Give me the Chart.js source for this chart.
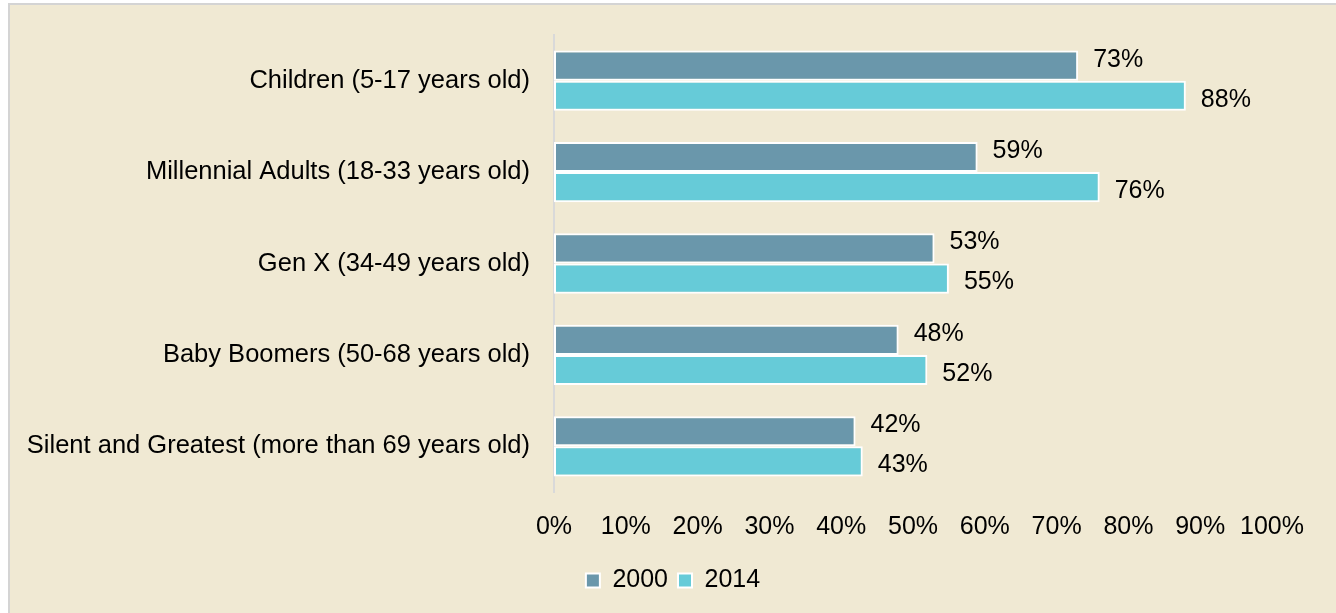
<!DOCTYPE html>
<html lang="en">
<head>
    <meta charset="UTF-8">
    <title>Share by generation, 2000 vs 2014</title>
    <script src="https://cdn.jsdelivr.net/npm/chart.js"></script>
    <style>
        body {
            margin: 0;
            background-color: #ffffff;
            overflow: hidden;
        }

        .panel {
            position: absolute;
            left: 8px;
            top: 3px;
            width: 1328px;
            height: 610px;
            background-color: #f0e9d3;
            border-left: 2px solid #d4d4d4;
            border-top: 2px solid #d4d4d4;
        }

        canvas {
            display: block;
        }
    </style>
</head>
<body>
    <div class="panel">
        <canvas id="genChart" width="1326" height="608"></canvas>
    </div>

    <script>
        // data
        const categories = [
            'Children (5-17 years old)',
            'Millennial Adults (18-33 years old)',
            'Gen X (34-49 years old)',
            'Baby Boomers (50-68 years old)',
            'Silent and Greatest (more than 69 years old)'
        ];
        const seriesNames = ['2000', '2014'];
        const values2000 = [73, 59, 53, 48, 42];
        const values2014 = [88, 76, 55, 52, 43];
        const axisMin = 0;
        const axisMax = 100;
        const axisStep = 10;

        const fontFamily = 'Arial, "Liberation Sans", sans-serif';

        // value labels to the right of each bar
        const barLabels = {
            id: 'barLabels',
            afterDatasetsDraw(chart) {
                const ctx = chart.ctx;
                ctx.save();
                ctx.font = '25px ' + fontFamily;
                ctx.fillStyle = '#000000';
                ctx.textAlign = 'left';
                ctx.textBaseline = 'middle';
                chart.data.datasets.forEach((ds, i) => {
                    const meta = chart.getDatasetMeta(i);
                    const shift = i === 0 ? -6 : 4;
                    meta.data.forEach((bar, j) => {
                        ctx.fillText(ds.data[j] + '%', bar.x + 15, bar.y + shift);
                    });
                });
                ctx.restore();
            }
        };

        const ctx = document.getElementById('genChart').getContext('2d');
        new Chart(ctx, {
            type: 'bar',
            data: {
                labels: categories,
                datasets: [{
                    label: seriesNames[0],
                    data: values2000,
                    backgroundColor: '#6a97ab',
                    borderColor: '#ffffff',
                    borderWidth: 2,
                    borderSkipped: false
                }, {
                    label: seriesNames[1],
                    data: values2014,
                    backgroundColor: '#66cbd8',
                    borderColor: '#ffffff',
                    borderWidth: 2,
                    borderSkipped: false
                }]
            },
            options: {
                indexAxis: 'y',
                responsive: false,
                animation: false,
                categoryPercentage: 0.66,
                barPercentage: 1.0,
                layout: {
                    padding: { left: 0, right: 0, top: 30, bottom: 10 }
                },
                plugins: {
                    tooltip: { enabled: false },
                    legend: {
                        position: 'bottom',
                        labels: {
                            boxWidth: 14,
                            boxHeight: 14,
                            padding: 10,
                            color: '#000000',
                            font: { family: fontFamily, size: 25 }
                        }
                    }
                },
                scales: {
                    x: {
                        min: axisMin,
                        max: axisMax,
                        grid: { display: false, drawTicks: false },
                        border: { display: false },
                        ticks: {
                            stepSize: axisStep,
                            padding: 20,
                            color: '#000000',
                            font: { family: fontFamily, size: 25 },
                            maxRotation: 0,
                            callback: (v) => v + '%'
                        },
                        afterFit(scale) { scale.height = 66; }
                    },
                    y: {
                        // invisible tick marks make the gap between labels and axis
                        grid: {
                            display: true,
                            drawOnChartArea: false,
                            drawTicks: true,
                            tickLength: 24,
                            color: 'rgba(0,0,0,0)'
                        },
                        border: { display: true, color: '#d9d9d9', width: 2 },
                        ticks: {
                            padding: 0,
                            color: '#000000',
                            font: { family: fontFamily, size: 25.5 }
                        },
                        afterFit(scale) { scale.width = 544; }
                    },
                    // empty right-hand axis, only reserves the space right of 100%
                    yRight: {
                        position: 'right',
                        grid: { display: false, drawTicks: false },
                        border: { display: false },
                        ticks: { display: false },
                        afterFit(scale) { scale.width = 64; }
                    }
                }
            },
            plugins: [barLabels]
        });
    </script>
</body>
</html>
